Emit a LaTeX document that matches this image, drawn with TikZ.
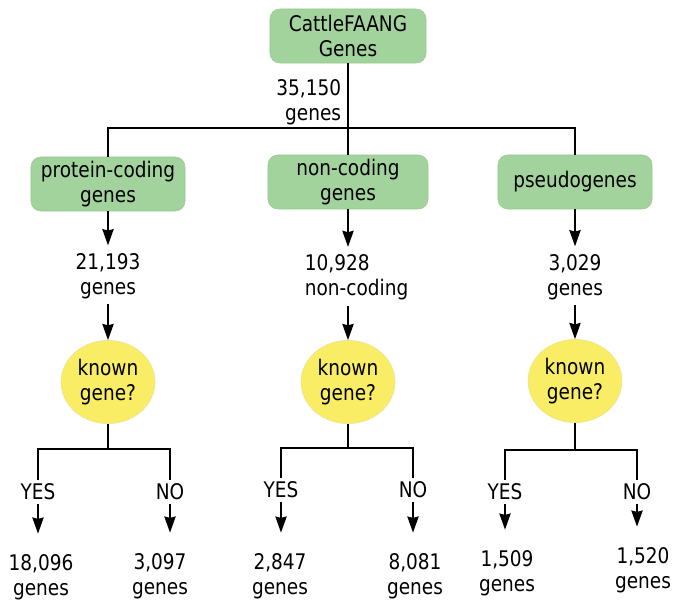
\documentclass[tikz,border=0pt]{standalone}
\usepackage{fontspec}
\setmainfont{DejaVu Sans}[FakeStretch=0.86]
\usepackage{tikz}
\usetikzlibrary{positioning,arrows.meta,shapes.geometric}
\definecolor{boxgreen}{RGB}{162,211,156}
\definecolor{boxedge}{RGB}{150,202,144}
\definecolor{qyellow}{RGB}{248,237,100}
\definecolor{qedge}{RGB}{236,226,150}
\tikzset{
	>={Stealth[length=11.5pt,width=8pt,inset=1pt]},
	every node/.style={font=\fontsize{15.3}{17.8}\selectfont},
	groupbox/.style={draw=boxedge, line width=0.4pt, fill=boxgreen, rounded corners=7pt, minimum height=1.35cm, align=center, inner sep=2pt},
	question/.style={ellipse, draw=qedge, line width=0.4pt, fill=qyellow, minimum width=2.35cm, minimum height=2.08cm, inner sep=0pt, align=center},
	count/.style={inner sep=0pt, align=center},
	answer/.style={inner sep=2pt},
}

\begin{document}
\begin{tikzpicture}[x=0.025cm, y=-0.025cm, line width=1.3pt]
	\useasboundingbox (0,0) rectangle (675,605);
	\node[groupbox, minimum width=3.9cm] (root) at (348,36) {CattleFAANG\\Genes};
	\node[count, align=right, anchor=north east] (total) at (342,79) {35,150\\genes};
	\coordinate (hub) at (348,128);

	\node[groupbox, minimum width=3.85cm] (coding) at (108,184) {protein-coding\\genes};
	\node[groupbox, minimum width=4cm] (noncoding) at (348,182) {non-coding\\genes};
	\node[groupbox, minimum width=3.85cm] (pseudo) at (575,182) {pseudogenes};

	\node[count] (n1) at (108,276) {21,193\\genes};
	\node[count, align=left, anchor=north west] (n2) at (304,254) {10,928\\non-coding};
	\node[count] (n3) at (575,277) {3,029\\genes};

	\node[question] (q1) at (108,382) {known\\gene?};
	\node[question] (q2) at (348,382) {known\\gene?};
	\node[question] (q3) at (575,381) {known\\gene?};

	\coordinate (b1) at (108,449);
	\coordinate (b2) at (348,448);
	\coordinate (b3) at (575,450);

	\node[answer] (yes1) at (38,492) {YES};
	\node[answer] (no1) at (170,492) {NO};
	\node[answer] (yes2) at (281,490) {YES};
	\node[answer] (no2) at (413,490) {NO};
	\node[answer] (yes3) at (505,492) {YES};
	\node[answer] (no3) at (637,492) {NO};

	\node[count] (c1) at (41,577) {18,096\\genes};
	\node[count] (c2) at (160,576) {3,097\\genes};
	\node[count] (c3) at (280,576) {2,847\\genes};
	\node[count] (c4) at (415,576) {8,081\\genes};
	\node[count] (c5) at (507,573) {1,509\\genes};
	\node[count] (c6) at (643,570) {1,520\\genes};

	\draw (root) -- (hub);
	\draw (coding.north) |- (hub) -| (pseudo.north);
	\draw (hub) -- (noncoding);

	\draw[->, shorten >=5pt] (coding) -- (n1);
	\draw[->, shorten >=5pt] (noncoding) -- (noncoding |- n2.north);
	\draw[->, shorten >=5pt] (pseudo) -- (n3);
	\draw[->, shorten <=3pt] (n1) -- (q1);
	\draw[->, shorten <=3pt] (noncoding |- n2.south) -- (q2);
	\draw[->, shorten <=3pt] (n3) -- (q3);

	\draw (q1) -- (b1);
	\draw (yes1.north) |- (b1) -| (no1.north);
	\draw (q2) -- (b2);
	\draw (yes2.north) |- (b2) -| (no2.north);
	\draw (q3) -- (b3);
	\draw (yes3.north) |- (b3) -| (no3.north);

	\draw[->, shorten >=14pt] (yes1) -- (yes1 |- c1.north);
	\draw[->, shorten >=14pt] (no1) -- (no1 |- c2.north);
	\draw[->, shorten >=14pt] (yes2) -- (yes2 |- c3.north);
	\draw[->, shorten >=14pt] (no2) -- (no2 |- c4.north);
	\draw[->, shorten >=14pt] (yes3) -- (yes3 |- c5.north);
	\draw[->, shorten >=14pt] (no3) -- (no3 |- c6.north);
\end{tikzpicture}
\end{document}
